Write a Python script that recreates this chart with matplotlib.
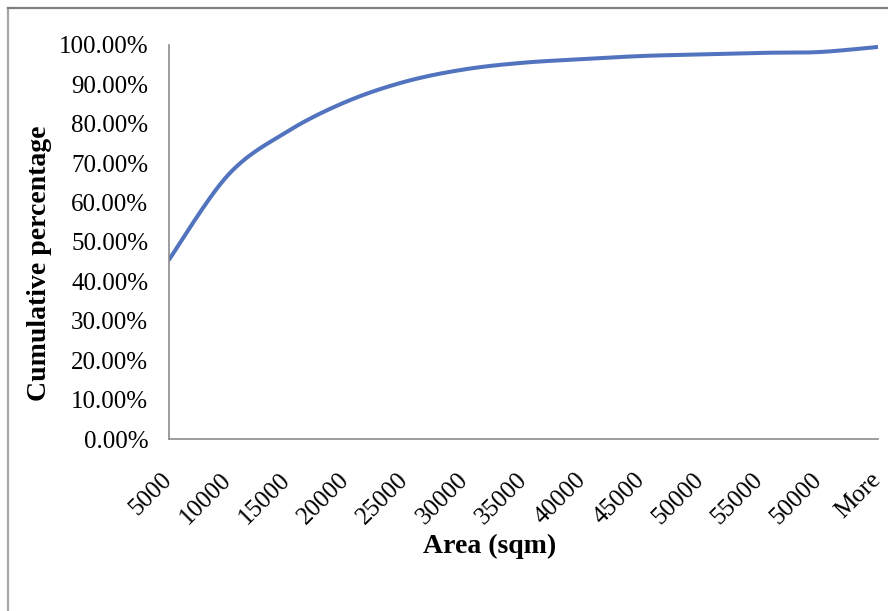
import numpy as np
import matplotlib.pyplot as plt
from matplotlib.ticker import FuncFormatter

# cumulative share of parcels by area bin
bins = ['5000', '10000', '15000', '20000', '25000', '30000', '35000',
        '40000', '45000', '50000', '55000', '50000', 'More']
cum_pct = [45.5, 67.0, 78.0, 85.6, 90.7, 93.8, 95.5,
           96.4, 97.2, 97.6, 98.0, 98.2, 99.5]


def smooth(x, y, n=40):
    # bezier through the points, like a "smoothed line" chart
    x = np.asarray(x, float)
    y = np.asarray(y, float)
    xs, ys = [], []
    t = np.linspace(0, 1, n)
    for i in range(len(x) - 1):
        i0 = max(i - 1, 0)
        i3 = min(i + 2, len(x) - 1)
        p0 = np.array([x[i], y[i]])
        p3 = np.array([x[i + 1], y[i + 1]])
        p1 = p0 + (np.array([x[i + 1], y[i + 1]]) - np.array([x[i0], y[i0]])) / 6
        p2 = p3 - (np.array([x[i3], y[i3]]) - np.array([x[i], y[i]])) / 6
        b = ((1 - t) ** 3)[:, None] * p0 + (3 * (1 - t) ** 2 * t)[:, None] * p1 \
            + (3 * (1 - t) * t ** 2)[:, None] * p2 + (t ** 3)[:, None] * p3
        xs.extend(b[:, 0])
        ys.extend(b[:, 1])
    return xs, ys


plt.rcParams['font.family'] = ['Liberation Serif', 'DejaVu Serif']

fig = plt.figure(figsize=(8.88, 6.11), dpi=100)
ax = fig.add_axes([0.1903, 0.2815, 0.9887 - 0.1903, 0.9264 - 0.2815])

pos = np.arange(len(bins))
sx, sy = smooth(pos, cum_pct)
ax.plot(sx, sy, color='#5274be', lw=2.9, solid_capstyle='round')

ax.set_xlim(0, len(bins) - 1)
ax.set_ylim(0, 100)
ax.set_yticks(np.arange(0, 101, 10))
ax.yaxis.set_major_formatter(FuncFormatter(lambda v, p: '%.2f%%' % v))
ax.set_xticks(pos)
ax.set_xticklabels(bins, rotation=45, ha='right', va='center',
                   rotation_mode='anchor')

ax.tick_params(axis='y', length=0, pad=15, labelsize=18)
ax.tick_params(axis='x', length=0, pad=27, labelsize=18)

for s in ['top', 'right']:
    ax.spines[s].set_visible(False)
for s in ['left', 'bottom']:
    ax.spines[s].set_color('#8c8c8c')
    ax.spines[s].set_linewidth(1.2)

fig.text(40 / 888, 1 - 263 / 611, 'Cumulative percentage', rotation=90,
         ha='center', va='center', fontsize=20, fontweight='bold')
fig.text(490 / 888, 1 - 546 / 611, 'Area (sqm)', ha='center', va='center',
         fontsize=20, fontweight='bold')

# outer frame (left and top edges)
fig.add_artist(plt.Line2D([7.5 / 888, 7.5 / 888], [0, 1 - 7.5 / 611],
                          color='#a6a6a6', lw=1.6, transform=fig.transFigure))
fig.add_artist(plt.Line2D([7.5 / 888, 1], [1 - 7.5 / 611, 1 - 7.5 / 611],
                          color='#7f7f7f', lw=1.6, transform=fig.transFigure))

fig.savefig('out.png', dpi=100)
